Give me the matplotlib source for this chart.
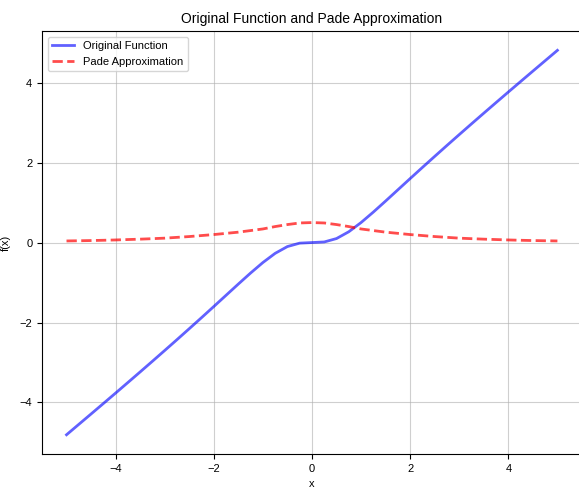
import matplotlib
matplotlib.use("Agg")
import matplotlib.pyplot as plt

x_values = [-5.0, -4.75, -4.5, -4.25, -4.0, -3.75, -3.5, -3.25, -3.0, -2.75, -2.5, -2.25,
            -2.0, -1.75, -1.5, -1.25, -1.0, -0.75, -0.5, -0.25, 0.0, 0.25, 0.5, 0.75,
            1.0, 1.25, 1.5, 1.75, 2.0, 2.25, 2.5, 2.75, 3.0, 3.25, 3.5, 3.75, 4.0,
            4.25, 4.5, 4.75, 5.0]
original_values = [-4.808, -4.548, -4.288, -4.027, -3.765, -3.501, -3.236, -2.969, -2.7,
                   -2.429, -2.155, -1.879, -1.6, -1.319, -1.038, -0.762, -0.5, -0.27, -0.1,
                   -0.0147, 0.0, 0.0147, 0.1, 0.27, 0.5, 0.762, 1.038, 1.319, 1.6, 1.879,
                   2.155, 2.429, 2.7, 2.969, 3.236, 3.501, 3.765, 4.027, 4.288, 4.548, 4.808]
pade_values = [0.04, 0.045, 0.05, 0.057, 0.065, 0.075, 0.085, 0.097, 0.11, 0.13, 0.15,
               0.175, 0.2, 0.23, 0.26, 0.3, 0.34, 0.4, 0.45, 0.49, 0.5, 0.49, 0.45, 0.4,
               0.34, 0.3, 0.26, 0.23, 0.2, 0.175, 0.15, 0.13, 0.11, 0.097, 0.085, 0.075,
               0.065, 0.057, 0.05, 0.045, 0.04]
y_ticks = [-4, -2, 0, 2, 4]
x_ticks = [-4, -2, 0, 2, 4]

plt.rcParams["font.family"] = ["Liberation Sans", "DejaVu Sans"]

fig = plt.figure(figsize=(5.79, 4.90), dpi=100)
ax = fig.add_axes([0.0725, 0.0735, 0.9326, 0.863])

ax.plot(x_values, original_values, color="blue", alpha=0.62, linewidth=2,
        label="Original Function")
ax.plot(x_values, pade_values, "r--", alpha=0.7, linewidth=2,
        label="Pade Approximation")

ax.set_xticks(x_ticks)
ax.set_yticks(y_ticks)
ax.tick_params(labelsize=8)
ax.set_title("Original Function and Pade Approximation", fontsize=10)
ax.set_xlabel("x", fontsize=8, labelpad=4)
ax.set_ylabel("f(x)", fontsize=8)
ax.yaxis.set_label_coords(-0.058, 0.5)
ax.grid(True, alpha=0.6)
ax.legend(loc="upper left", fontsize=8, handlelength=2.0)

fig.savefig("out.png", dpi=100)
